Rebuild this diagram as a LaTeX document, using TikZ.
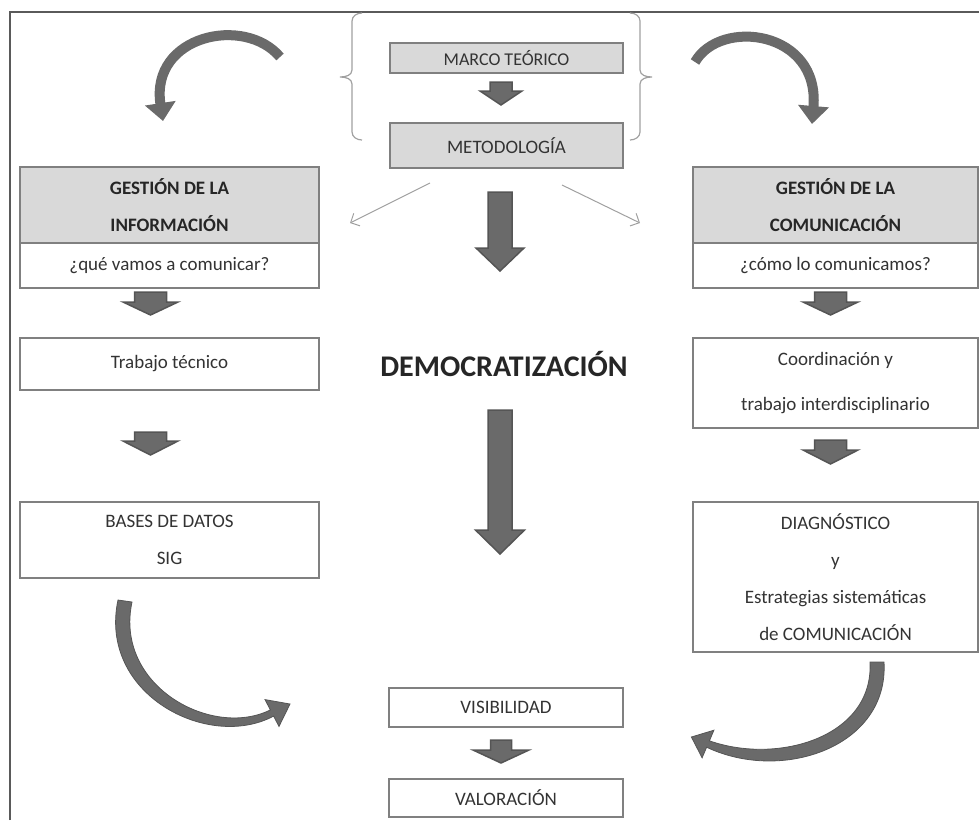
\documentclass[tikz,border=0pt]{standalone}
\usepackage{fontspec}
\setmainfont{Carlito}
\usetikzlibrary{arrows.meta}
\definecolor{txt}{HTML}{333333}
\definecolor{boxline}{HTML}{808080}
\definecolor{hdr}{HTML}{D9D9D9}
\definecolor{arrfill}{HTML}{6A6A6A}
\definecolor{arrline}{HTML}{555555}
\definecolor{frame}{HTML}{5A5A5A}
\definecolor{lightline}{HTML}{A0A0A0}
\newcommand\blockarrow[6]{%
  \draw[blk] ({#1-#3},#2) -- ({#1+#3},#2) -- ({#1+#3},#5) -- ({#1+#4},#5) -- (#1,#6) -- ({#1-#4},#5) -- ({#1-#3},#5) -- cycle;}
\tikzset{
  box/.style={draw=boxline, line width=1.5pt, fill=white, inner sep=0pt, align=center, text=txt,
              font=\fontsize{19}{37}\selectfont},
  hbox/.style={box, fill=hdr, text=black!85, font=\fontsize{19}{37}\selectfont\bfseries},
  tbox/.style={box, fill=hdr},
  blk/.style={fill=arrfill, draw=arrline, line width=1.5pt, line join=miter},
  curv/.style={draw=arrfill, line width=10pt, -{Triangle[length=18pt,width=30pt]}},
  curvfill/.style={fill=arrfill, draw=arrline, line width=0.8pt, line join=miter},
  thinarrow/.style={draw=lightline, line width=1pt, -{Straight Barb[length=7pt,width=14pt]}},
  bracestyle/.style={draw=lightline, line width=1.2pt},
}
\begin{document}
\begin{tikzpicture}[x=1pt,y=-1pt]
\useasboundingbox (0,0) rectangle (979,820);
% frame
\draw[draw=frame, line width=1.5pt] (10,820) -- (10,12) -- (979,12);

% central top
\node[tbox, minimum width=233, minimum height=30, font=\fontsize{18}{22}\selectfont] (mt) at (506.5,58) {MARCO TEÓRICO};
\node[tbox, minimum width=233, minimum height=45] (me) at (506.5,145.5) {METODOLOGÍA};
\blockarrow{501}{82}{11}{21}{91}{105}

% braces
\draw[bracestyle] (362,13) to[out=180,in=90] (352,21) -- (352,70) to[out=270,in=0] (340,77)
   to[out=0,in=90] (352,84) -- (352,132) to[out=270,in=180] (362,140);
\draw[bracestyle] (630,13) to[out=0,in=90] (640,21) -- (640,70) to[out=270,in=180] (652,77)
   to[out=180,in=90] (640,84) -- (640,132) to[out=270,in=0] (630,140);

% thin arrows
\coordinate (tl0) at (430,183); \coordinate (tl1) at (350,223);
\coordinate (tr0) at (562,185); \coordinate (tr1) at (640,223);
\draw[thinarrow] (tl0) -- (tl1);
\draw[thinarrow] (tr0) -- (tr1);

% central
\blockarrow{500}{192}{12}{24}{248}{271}
\node[text=black!85, font=\fontsize{30}{33}\selectfont\bfseries] (dem) at (504,364) {DEMOCRATIZACIÓN};
\blockarrow{500}{410}{12}{24.5}{530}{554}

% left column
\node[hbox, minimum width=299, minimum height=76] (gi) at (169.5,205) {GESTIÓN DE LA\\INFORMACIÓN};
\node[box, minimum width=299, minimum height=45] (qi) at (169.5,265.5) {¿qué vamos a comunicar?};
\blockarrow{150.5}{292}{16}{27.5}{302}{315}
\node[box, minimum width=299, minimum height=52] (tt) at (169.5,364) {Trabajo técnico};
\blockarrow{150.5}{432}{16}{27.5}{441}{455}
\node[box, minimum width=299, minimum height=76] (bd) at (169.5,540) {BASES DE DATOS\\SIG};

% right column
\node[hbox, minimum width=285, minimum height=76] (gc) at (835.5,205) {GESTIÓN DE LA\\COMUNICACIÓN};
\node[box, minimum width=285, minimum height=45] (qc) at (835.5,265.5) {¿cómo lo comunicamos?};
\blockarrow{830.5}{292}{16}{27.5}{302}{315}
\node[box, minimum width=285, minimum height=90, font=\fontsize{19}{45}\selectfont] (co) at (835.5,383) {Coordinación y\\trabajo interdisciplinario};
\blockarrow{830.5}{440}{16}{27.5}{450}{464}
\node[box, minimum width=285, minimum height=150] (di) at (835.5,577) {DIAGNÓSTICO\\y\\Estrategias sistemáticas\\de COMUNICACIÓN};

% bottom
\node[box, minimum width=234, minimum height=39] (vi) at (506,707.5) {VISIBILIDAD};
\blockarrow{501}{740}{10.5}{28}{750}{763}
\node[box, minimum width=234, minimum height=38] (va) at (506,798) {VALORACIÓN};

% curved arrows (top)
\draw[curv] (280,57) .. controls (245,15) and (150,35) .. (163,121);
\draw[curv] (695,62) .. controls (720,18) and (820,30) .. (812,124);
% curved arrows (bottom, tapered)
\filldraw[curvfill] (118,600) .. controls (98,694) and (208,751) .. (273.6,716.1) -- (279,726.4)
   -- (290,704) -- (265,699.6) -- (270.4,709.9) .. controls (212,739) and (114,686) .. (132,602) -- cycle;
\filldraw[curvfill] (884,662) .. controls (889,747) and (782,783) .. (706.6,747.2) -- (702.1,757.8)
   -- (691.4,737) -- (713.9,730.2) -- (709.4,740.8) .. controls (778,765) and (874,737) .. (870,662) -- cycle;
\end{tikzpicture}
\end{document}
